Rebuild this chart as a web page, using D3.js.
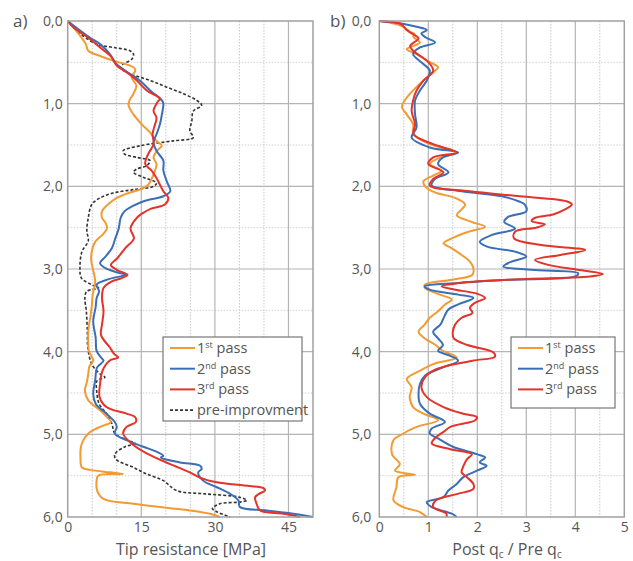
<!DOCTYPE html>
<html><head><meta charset="utf-8">
<script src="https://cdn.jsdelivr.net/npm/d3@7"></script>
<style>body{margin:0;background:#fff}svg{display:block}text{font-family:"Open Sans",sans-serif;fill:#555}</style>
</head><body><svg id="c" width="633" height="561"></svg>
<script>
// ---- Data: [depth (m), value] ----
const aPass1 = [[0,0],[0.1,1.5],[0.2,2.8],[0.28,3.7],[0.36,4.2],[0.42,6.5],[0.48,9.3],[0.56,13.4],[0.6,13.8],[0.68,13],[0.78,14],[0.88,13.4],[0.96,12.6],[1.02,12.4],[1.13,13.4],[1.25,15.1],[1.35,16.8],[1.45,18.1],[1.51,19.2],[1.55,18.5],[1.65,17.5],[1.73,18.1],[1.81,17.8],[1.91,17.1],[1.98,16.4],[2.04,14.7],[2.08,12.4],[2.14,10],[2.2,8.6],[2.3,7.0],[2.38,7.0],[2.45,7.8],[2.51,8.0],[2.58,7.2],[2.67,5.6],[2.79,4.9],[2.9,4.8],[2.99,5.1],[3.15,5.6],[3.31,5.1],[3.45,4.9],[3.55,4.7],[3.75,4.2],[3.92,4.2],[3.99,4.3],[4.05,4.8],[4.11,5.2],[4.18,4.4],[4.27,4.2],[4.37,3.9],[4.47,3.5],[4.59,4.2],[4.71,6.6],[4.78,7.8],[4.85,8.8],[4.9,7],[4.94,5.5],[4.99,4.2],[5.07,3.2],[5.15,2.7],[5.28,2.6],[5.4,2.9],[5.43,4.6],[5.46,8.6],[5.48,11.3],[5.5,6.2],[5.56,5.9],[5.68,6.0],[5.78,7.3],[5.84,13.4],[5.88,18.8],[5.92,24.9],[5.96,29],[6.0,31]];
const aPass2 = [[0,0],[0.1,2.2],[0.2,4.5],[0.28,6.6],[0.4,8.6],[0.5,9.6],[0.6,11.7],[0.72,14.7],[0.84,16.8],[0.96,19.2],[1.0,19.5],[1.13,19.2],[1.25,18.8],[1.37,18.1],[1.47,17.5],[1.57,18.1],[1.69,19.5],[1.81,19.5],[1.94,20.2],[2.06,20.9],[2.12,19.5],[2.18,15.5],[2.24,13.2],[2.3,11.6],[2.38,10.8],[2.51,10.4],[2.63,9.7],[2.75,9.0],[2.85,7.7],[2.93,6.6],[2.99,7.7],[3.04,10.0],[3.07,11.8],[3.12,8.5],[3.19,5.9],[3.27,6.4],[3.35,5.9],[3.46,5.7],[3.63,5.2],[3.83,5.7],[3.99,5.9],[4.07,6.8],[4.11,7.3],[4.19,6.0],[4.35,5.6],[4.51,5.2],[4.63,5.7],[4.75,7.9],[4.85,9.6],[4.91,10],[4.99,9.6],[5.07,12],[5.15,15.4],[5.21,18.1],[5.26,19.5],[5.28,19.0],[5.34,22.9],[5.38,27],[5.42,27.3],[5.46,26.6],[5.56,27.6],[5.64,30.4],[5.72,33.1],[5.8,34.8],[5.88,35.1],[5.92,40.6],[5.96,46],[6.0,50]];
const aPass3 = [[0,0],[0.08,1.2],[0.15,2.9],[0.22,4.6],[0.32,6.6],[0.44,9],[0.54,10],[0.62,12],[0.72,14.1],[0.84,16.1],[0.94,18.8],[0.98,18.3],[1.09,17.5],[1.17,18.1],[1.29,17.6],[1.37,17.3],[1.49,17.5],[1.61,16.4],[1.73,15.8],[1.81,17.1],[1.9,18.1],[1.98,18.8],[2.06,19.5],[2.14,20.5],[2.22,19.8],[2.27,17.0],[2.32,15.4],[2.38,14.1],[2.51,12.8],[2.63,13.5],[2.75,11.7],[2.87,10.1],[2.95,8.8],[3.01,10],[3.07,12.2],[3.11,11],[3.15,9.0],[3.23,7.3],[3.35,7.0],[3.51,7.3],[3.67,7.0],[3.8,6.8],[3.95,8.6],[4.03,9.5],[4.07,10.3],[4.11,8.5],[4.23,7.1],[4.39,6.6],[4.55,6.5],[4.67,7.9],[4.75,12],[4.79,13.7],[4.85,13.9],[4.91,12],[4.99,11.3],[5.11,13],[5.23,16.1],[5.36,20.9],[5.46,24.9],[5.52,26.8],[5.58,30.4],[5.62,36],[5.65,39.9],[5.68,40.2],[5.72,39],[5.76,38.2],[5.84,38.5],[5.92,39.2],[5.96,44],[6.0,47.4]];
const aPre = [[0,0],[0.08,1.2],[0.15,2.5],[0.28,5.9],[0.32,9.3],[0.36,12.7],[0.4,13.4],[0.46,13.1],[0.52,11.3],[0.56,10.7],[0.62,12],[0.72,16.8],[0.8,20.2],[0.88,23.6],[0.96,26.3],[1.02,27.3],[1.09,25.6],[1.21,25.3],[1.33,24.9],[1.41,25.6],[1.45,21.5],[1.51,14.7],[1.57,11.3],[1.61,11.6],[1.65,14.1],[1.69,16.8],[1.75,16.1],[1.79,14.1],[1.83,13.4],[1.89,15.4],[1.96,18.1],[2.0,17.5],[2.04,13.4],[2.08,9.3],[2.14,6.6],[2.22,4.9],[2.38,4.2],[2.54,3.9],[2.66,4.2],[2.79,2.9],[2.99,2.5],[3.11,2.8],[3.19,4.9],[3.23,6.3],[3.27,3.9],[3.35,3.5],[3.51,3.8],[3.75,4.0],[3.95,4.1],[4.15,4.9],[4.27,6.6],[4.31,7.6],[4.35,6.0],[4.47,5.9],[4.63,6.4],[4.75,7.9],[4.87,9.0],[4.99,9.6],[5.07,12],[5.11,13.7],[5.15,11.7],[5.24,9.6],[5.3,9.8],[5.4,13.4],[5.48,16.1],[5.56,19.5],[5.68,22.2],[5.72,28],[5.76,35],[5.8,36.5],[5.82,35],[5.84,31],[5.9,29.5],[5.94,30.5],[6.0,33.1]];

const bPass1 = [[0,0],[0.03,0.3],[0.07,0.49],[0.13,0.63],[0.16,0.72],[0.19,0.69],[0.26,0.83],[0.34,0.56],[0.4,0.76],[0.48,0.97],[0.56,1.2],[0.62,1.1],[0.72,0.9],[0.84,0.69],[0.96,0.52],[1.04,0.46],[1.13,0.56],[1.25,0.69],[1.37,0.7],[1.49,1.03],[1.59,1.54],[1.67,1.17],[1.73,1.03],[1.81,1.27],[1.87,1.1],[1.94,0.9],[2.02,0.97],[2.08,1.17],[2.14,1.55],[2.22,1.75],[2.28,1.68],[2.35,1.58],[2.43,1.88],[2.49,2.16],[2.55,1.82],[2.63,1.48],[2.69,1.31],[2.75,1.48],[2.83,1.68],[2.91,1.85],[2.99,1.92],[3.07,1.9],[3.13,1.48],[3.19,0.93],[3.23,0.93],[3.31,1.24],[3.37,1.48],[3.43,1.34],[3.51,1.2],[3.59,1.03],[3.67,0.93],[3.76,0.8],[3.84,0.93],[3.92,1.15],[3.98,1.27],[4.07,1.58],[4.15,1.1],[4.23,0.83],[4.33,0.56],[4.43,0.66],[4.55,0.62],[4.67,0.69],[4.75,0.9],[4.83,1.2],[4.91,0.76],[4.99,0.49],[5.07,0.29],[5.24,0.26],[5.36,0.42],[5.44,0.32],[5.49,0.73],[5.52,0.39],[5.64,0.35],[5.8,0.29],[5.88,0.49],[5.94,0.83],[6.0,0.97]];
const bPass2 = [[0,0],[0.03,0.45],[0.07,0.76],[0.11,0.97],[0.15,0.86],[0.2,0.95],[0.26,1.14],[0.32,0.83],[0.4,0.69],[0.52,0.9],[0.6,1.03],[0.72,0.97],[0.84,0.83],[0.96,0.73],[1.13,0.73],[1.29,0.76],[1.41,0.66],[1.53,1.03],[1.59,1.61],[1.65,1.3],[1.73,1.2],[1.83,1.41],[1.91,1.14],[1.99,1.07],[2.06,1.68],[2.12,2.5],[2.18,2.84],[2.22,2.97],[2.3,3.0],[2.37,2.63],[2.43,2.55],[2.51,2.77],[2.59,2.29],[2.67,2.05],[2.73,2.2],[2.79,2.77],[2.85,3.0],[2.91,2.7],[2.97,2.53],[3.01,3.11],[3.05,4.06],[3.09,4.0],[3.13,2.63],[3.17,1.61],[3.21,0.93],[3.25,1.03],[3.31,1.61],[3.35,1.92],[3.43,1.6],[3.49,1.41],[3.57,1.33],[3.67,1.25],[3.76,1.1],[3.84,1.2],[3.92,1.3],[3.99,1.2],[4.05,1.45],[4.11,1.61],[4.19,1.3],[4.29,0.93],[4.39,0.83],[4.51,0.8],[4.63,0.83],[4.75,1.03],[4.85,1.34],[4.93,1.07],[4.99,1.03],[5.05,1.2],[5.15,1.5],[5.24,1.99],[5.28,2.16],[5.34,2.05],[5.38,2.19],[5.44,1.99],[5.52,1.71],[5.6,1.58],[5.68,1.41],[5.76,1.31],[5.82,0.97],[5.88,1.07],[5.96,1.48],[6.0,1.58]];
const bPass3 = [[0,0],[0.03,0.42],[0.07,0.5],[0.11,0.56],[0.15,0.66],[0.21,0.8],[0.3,0.63],[0.36,0.69],[0.48,0.97],[0.6,1.1],[0.72,0.9],[0.84,0.76],[0.96,0.69],[1.09,0.66],[1.25,0.73],[1.37,0.7],[1.49,1.1],[1.59,1.58],[1.65,1.1],[1.73,1.0],[1.83,1.31],[1.91,1.1],[1.99,1.03],[2.06,1.85],[2.12,2.87],[2.18,3.82],[2.22,3.93],[2.28,3.79],[2.34,3.55],[2.38,3.18],[2.42,3.11],[2.46,3.38],[2.5,3.2],[2.55,2.77],[2.63,2.75],[2.71,3.3],[2.77,4.2],[2.83,3.7],[2.89,3.18],[2.95,3.45],[3.01,4.05],[3.06,4.56],[3.09,4.3],[3.13,2.63],[3.17,1.61],[3.21,1.27],[3.25,1.55],[3.3,2.0],[3.35,2.16],[3.41,1.95],[3.47,1.85],[3.53,1.9],[3.59,1.68],[3.67,1.55],[3.76,1.5],[3.84,1.52],[3.92,1.8],[4.01,2.33],[4.06,2.36],[4.11,1.9],[4.21,1.17],[4.31,0.93],[4.43,0.86],[4.55,0.97],[4.67,1.31],[4.75,1.71],[4.79,1.99],[4.83,1.96],[4.91,1.45],[4.97,1.31],[5.03,1.17],[5.11,1.07],[5.18,1.45],[5.24,1.89],[5.3,1.79],[5.38,1.72],[5.46,1.68],[5.52,1.79],[5.6,1.92],[5.66,1.92],[5.72,1.6],[5.8,1.15],[5.88,1.1],[5.96,1.37],[6.0,1.37]];

const depthTicks = [0,1,2,3,4,5,6];
const aTicks = [0,15,30,45];
const bTicks = [0,1,2,3,4,5];
const legendLabels = [["1","st"],["2","nd"],["3","rd"]];
const colors = {p1:"#f39a33", p2:"#3a6fb8", p3:"#e3332b", pre:"#333"};

const svg = d3.select("#c");
const fmt = d => d3.format(".1f")(d).replace(".", ",");
const yTop = 21, yBot = 517;
const y = d3.scaleLinear().domain([0,6]).range([yTop,yBot]);

function panel(opts){
  const x = d3.scaleLinear().domain(opts.domain).range(opts.range);
  const g = svg.append("g");
  const minorX = d3.range(opts.minor, opts.domain[1]-1e-9, opts.minor).filter(v => opts.major.every(m => Math.abs(m-v)>1e-6));
  g.selectAll(".mx").data(minorX).join("line").attr("x1",x).attr("x2",x).attr("y1",yTop).attr("y2",yBot)
    .attr("stroke","#c8c8c8").attr("stroke-width",1).attr("stroke-dasharray","1.5,1.5");
  const minorY = [0.5,1.5,2.5,3.5,4.5,5.5];
  g.selectAll(".my").data(minorY).join("line").attr("y1",y).attr("y2",y).attr("x1",opts.range[0]).attr("x2",opts.range[1])
    .attr("stroke","#d0d0d0").attr("stroke-width",1).attr("stroke-dasharray","1.5,1.5");
  g.selectAll(".Mx").data(opts.major).join("line").attr("x1",x).attr("x2",x).attr("y1",yTop).attr("y2",yBot)
    .attr("stroke","#b4b4b4").attr("stroke-width",1.2);
  g.selectAll(".My").data([1,2,3,4,5]).join("line").attr("y1",y).attr("y2",y).attr("x1",opts.range[0]).attr("x2",opts.range[1])
    .attr("stroke","#b4b4b4").attr("stroke-width",1.2);
  const line = d3.line().x(d=>x(d[1])).y(d=>y(d[0])).curve(d3.curveCatmullRom.alpha(0.5));
  opts.series.forEach(s => {
    g.append("path").datum(s.data).attr("d",line).attr("fill","none").attr("stroke",s.color)
      .attr("stroke-width",s.dash?1.6:2).attr("stroke-dasharray",s.dash||null).attr("stroke-linejoin","round");
  });
  g.append("rect").attr("x",opts.range[0]).attr("y",yTop).attr("width",opts.range[1]-opts.range[0]).attr("height",yBot-yTop)
    .attr("fill","none").attr("stroke","#a0a0a0").attr("stroke-width",1.5);
  const ya = g.append("g").attr("transform",`translate(${opts.range[0]},0)`)
    .call(d3.axisLeft(y).tickValues(depthTicks).tickFormat(fmt).tickSize(0).tickPadding(opts.yPad));
  ya.select(".domain").remove();
  ya.selectAll("text").attr("font-size",14).attr("fill","#555").attr("font-family",'"Open Sans",sans-serif');
  const xa = g.append("g").attr("transform",`translate(0,${yBot})`)
    .call(d3.axisBottom(x).tickValues(opts.ticks).tickFormat(d3.format("d")).tickSize(0).tickPadding(5));
  xa.select(".domain").remove();
  xa.selectAll("text").attr("font-size",14).attr("fill","#555").attr("font-family",'"Open Sans",sans-serif');
  svg.append("text").attr("x",opts.letterX).attr("y",y(0)).attr("dy","0.35em").attr("font-size",17).text(opts.letter);
  const L = opts.legend;
  const lg = svg.append("g");
  lg.append("rect").attr("x",L.x).attr("y",L.y).attr("width",L.w).attr("height",L.h).attr("fill","#fff")
    .attr("stroke","#777").attr("stroke-width",1.2);
  L.items.forEach((it,i)=>{
    const yy = L.y + 11 + i*20.7;
    lg.append("line").attr("x1",L.x+7).attr("x2",L.x+32).attr("y1",yy).attr("y2",yy).attr("stroke",it.color)
      .attr("stroke-width",it.dash?1.6:2).attr("stroke-dasharray",it.dash||null);
    const t = lg.append("text").attr("x",L.x+34).attr("y",yy).attr("dy","0.35em").attr("font-size",14.5);
    if (it.sup){
      t.append("tspan").text(it.label[0]);
      t.append("tspan").attr("dy",-5).attr("font-size",9).text(it.label[1]);
      t.append("tspan").attr("dy",5).text(" pass");
    } else t.text(it.label);
  });
  return x;
}

const legItems = [
  {label:legendLabels[0], sup:true, color:colors.p1},
  {label:legendLabels[1], sup:true, color:colors.p2},
  {label:legendLabels[2], sup:true, color:colors.p3}
];

panel({domain:[0,50], range:[67.7,313], minor:5, major:[15,30,45], ticks:aTicks, letter:"a)", letterX:13, yPad:5,
  series:[{data:aPre,color:colors.pre,dash:"3,2"},{data:aPass1,color:colors.p1},{data:aPass2,color:colors.p2},{data:aPass3,color:colors.p3}],
  legend:{x:163,y:337,w:139,h:84, items:legItems.concat([{label:"pre-improvment", color:colors.pre, dash:"3,2"}])}});

panel({domain:[0,5], range:[379.3,624.3], minor:0.5, major:[1,2,3,4], ticks:bTicks, letter:"b)", letterX:330, yPad:8,
  series:[{data:bPass1,color:colors.p1},{data:bPass2,color:colors.p2},{data:bPass3,color:colors.p3}],
  legend:{x:511,y:337,w:104,h:71, items:legItems}});

svg.append("text").attr("x",191).attr("y",555).attr("font-size",16).attr("text-anchor","middle")
  .text("Tip resistance [MPa]");
const t2 = svg.append("text").attr("x",507).attr("y",555).attr("text-anchor","middle").attr("font-size",16);
t2.append("tspan").text("Post q");
t2.append("tspan").attr("dy",3).attr("font-size",10).text("c");
t2.append("tspan").attr("dy",-3).text(" / Pre q");
t2.append("tspan").attr("dy",3).attr("font-size",10).text("c");
</script></body></html>
